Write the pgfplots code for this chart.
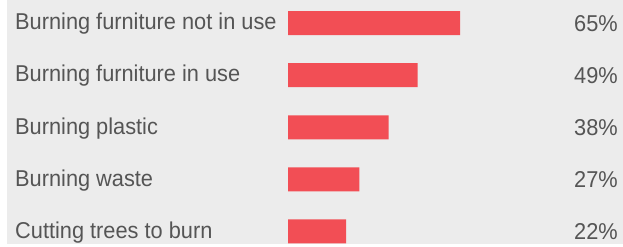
\documentclass[border=0pt]{standalone}
\usepackage{pgfplots}
\pgfplotsset{compat=1.18}
\usepackage{fontspec}
\setmainfont[FakeStretch=0.95]{Liberation Sans}
\definecolor{bgcol}{HTML}{ECECEC}
\definecolor{barcol}{HTML}{F24E55}
\definecolor{txt}{HTML}{555555}
\pgfplotstableread{
y val
0 65
1 49
2 38
3 27
4 22
}\datatab
\begin{document}
\begin{tikzpicture}
\pgfplotsset{
  base/.style={
    at={(7bp,3bp)}, anchor=south west,
    scale only axis, width=616bp, height=244bp,
    xmin=-106.2, xmax=126.6,
    ymin=-0.4415, ymax=4.24, y dir=reverse,
    axis line style={draw=none}, tick style={draw=none},
    xtick=\empty, ytick={0,1,2,3,4},
    tick label style={font=\fontsize{23}{27}\selectfont, text=txt, inner sep=0pt},
  }
}
\begin{axis}[base,
  axis background/.style={fill=bgcol},
  yticklabels={Burning furniture not in use, Burning furniture in use, Burning plastic, Burning waste, Cutting trees to burn},
  yticklabel style={anchor=base west, xshift=8bp, yshift=-6.8bp},
]
\addplot[xbar, bar width=24bp, bar shift=0pt, fill=barcol, draw=none] table[x=val, y=y] {\datatab};
\end{axis}
\begin{axis}[base,
  yticklabel pos=right,
  yticklabels={65\%, 49\%, 38\%, 27\%, 22\%},
  yticklabel style={anchor=base east, xshift=-5bp, yshift=-8bp},
]
\end{axis}
\pgfresetboundingbox
\path (0,0) rectangle (623bp,247bp);
\end{tikzpicture}
\end{document}
